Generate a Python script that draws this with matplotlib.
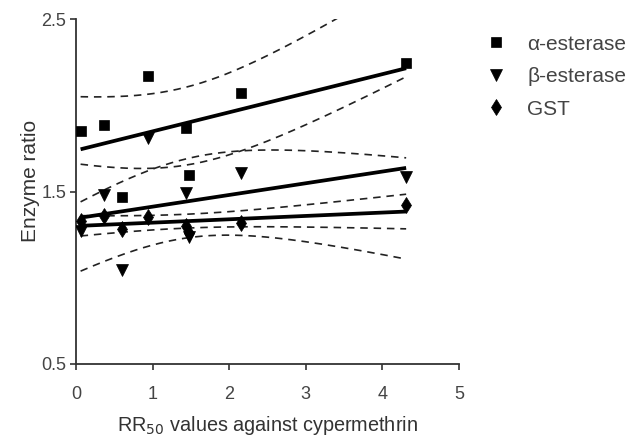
import numpy as np
import matplotlib
matplotlib.use("Agg")
import matplotlib.pyplot as plt

# ---- data ----
rr50 = [0.06, 0.36, 0.60, 0.94, 1.43, 1.47, 2.15, 4.31]
alpha_est = [1.85, 1.886, 1.47, 2.17, 1.87, 1.595, 2.07, 2.245]
beta_est = [1.27, 1.48, 1.045, 1.81, 1.49, 1.235, 1.607, 1.585]
gst = [1.33, 1.36, 1.28, 1.35, 1.30, 1.26, 1.32, 1.42]

series_names = ["\u03b1-esterase", "\u03b2-esterase", "GST"]
x_ticks = [0, 1, 2, 3, 4, 5]
y_ticks = [0.5, 1.5, 2.5]

plt.rcParams['font.family'] = ['Liberation Sans', 'DejaVu Sans']

fig = plt.figure(figsize=(6.43, 4.41), dpi=100)
ax = fig.add_axes([76/643, 1-364/441, (459-76)/643, (364-19)/441])

T_CRIT = 2.447  # t(0.975, df=6)


def fit_band(x, y):
    x = np.asarray(x, float)
    y = np.asarray(y, float)
    n = len(x)
    slope, intercept = np.polyfit(x, y, 1)
    resid = y - (intercept + slope * x)
    s = np.sqrt(np.sum(resid ** 2) / (n - 2))
    sxx = np.sum((x - x.mean()) ** 2)
    xs = np.linspace(x.min(), x.max(), 200)
    yc = intercept + slope * xs
    hw = T_CRIT * s * np.sqrt(1.0 / n + (xs - x.mean()) ** 2 / sxx)
    return xs, yc, yc - hw, yc + hw


markers = ['s', 'v', 'd']
msizes = [7.5, 8.5, 8]
for ys, m, ms, name in zip([alpha_est, beta_est, gst], markers, msizes, series_names):
    xs, yc, lo, hi = fit_band(rr50, ys)
    ax.plot(xs, yc, color='black', lw=2.7, solid_capstyle='butt', zorder=3)
    ax.plot(xs, lo, color='#222222', lw=1.2, ls=(0, (4.5, 3.5)), zorder=2)
    ax.plot(xs, hi, color='#222222', lw=1.2, ls=(0, (4.5, 3.5)), zorder=2)
    ax.plot(rr50, ys, ls='none', marker=m, ms=ms, color='black',
            markeredgewidth=0.5, zorder=4, label=name)

ax.set_xlim(0, 5)
ax.set_ylim(0.5, 2.5)
ax.set_xticks(x_ticks)
ax.set_yticks(y_ticks)
ax.set_xticklabels([str(v) for v in x_ticks])
ax.set_yticklabels([str(v) for v in y_ticks])
for s in ['top', 'right']:
    ax.spines[s].set_visible(False)
for s in ['left', 'bottom']:
    ax.spines[s].set_linewidth(1.3)
    ax.spines[s].set_color('#333333')
ax.tick_params(direction='out', length=4, width=1.2, colors='#333333',
               labelsize=13, labelcolor='#444444', pad=3)
ax.tick_params(axis='x', pad=12)

ax.set_xlabel("RR$_{50}$ values against cypermethrin", fontsize=14.3,
              color='#333333', labelpad=8)
ax.set_ylabel("Enzyme ratio", fontsize=15, color='#333333')
ax.yaxis.set_label_coords(-0.095, 0.53)

leg = ax.legend(loc='upper left', bbox_to_anchor=(1.07, 0.955), frameon=False,
                fontsize=15, handlelength=1.0, handletextpad=1.0,
                labelspacing=0.65, borderaxespad=0, borderpad=0)
for t in leg.get_texts():
    t.set_color('#444444')

fig.savefig("out.png", dpi=100)
